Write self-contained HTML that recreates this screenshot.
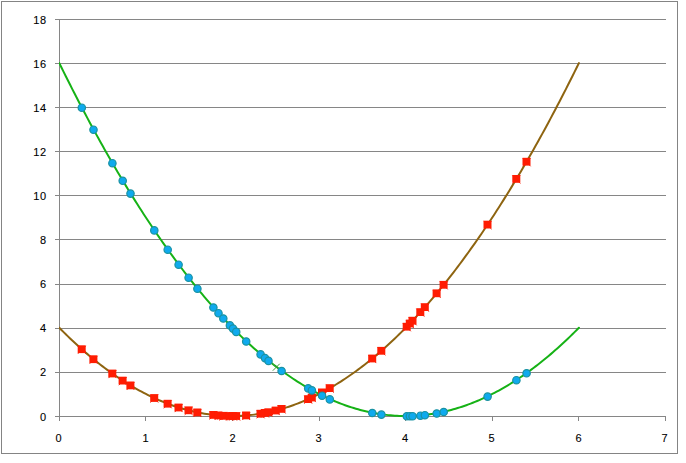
<!DOCTYPE html>
<html><head><meta charset="utf-8"><title>chart</title>
<style>
html,body{margin:0;padding:0;background:#fff;}
body{width:686px;height:463px;overflow:hidden;}
svg{display:block;}
text{font-family:"Liberation Sans",sans-serif;font-size:11px;fill:#000;stroke:#000;stroke-width:0.1px;letter-spacing:0.6px;}
</style></head><body>
<svg width="686" height="463" viewBox="0 0 686 463">
<rect x="0" y="0" width="686" height="463" fill="#fff"/>
<rect x="1.5" y="1.5" width="676" height="452" fill="#fff" stroke="#848484" stroke-width="1" shape-rendering="crispEdges"/>
<g stroke="#868686" stroke-width="1" shape-rendering="crispEdges">
<line x1="55" y1="372.5" x2="666" y2="372.5"/>
<line x1="55" y1="328.5" x2="666" y2="328.5"/>
<line x1="55" y1="284.5" x2="666" y2="284.5"/>
<line x1="55" y1="239.5" x2="666" y2="239.5"/>
<line x1="55" y1="195.5" x2="666" y2="195.5"/>
<line x1="55" y1="151.5" x2="666" y2="151.5"/>
<line x1="55" y1="107.5" x2="666" y2="107.5"/>
<line x1="55" y1="63.5" x2="666" y2="63.5"/>
<line x1="55" y1="19.5" x2="666" y2="19.5"/>
<line x1="55" y1="416.5" x2="666" y2="416.5"/>
<line x1="59.5" y1="19" x2="59.5" y2="421"/>
<line x1="145.5" y1="416" x2="145.5" y2="421"/>
<line x1="232.5" y1="416" x2="232.5" y2="421"/>
<line x1="319.5" y1="416" x2="319.5" y2="421"/>
<line x1="405.5" y1="416" x2="405.5" y2="421"/>
<line x1="492.5" y1="416" x2="492.5" y2="421"/>
<line x1="578.5" y1="416" x2="578.5" y2="421"/>
<line x1="665.5" y1="416" x2="665.5" y2="421"/>
</g>
<clipPath id="c"><rect x="59" y="0" width="600" height="463"/></clipPath><g clip-path="url(#c)">
<path d="M59.30,327.78 L61.46,329.97 L63.63,332.13 L65.80,334.27 L67.96,336.38 L70.12,338.46 L72.29,340.51 L74.45,342.54 L76.62,344.54 L78.78,346.51 L80.95,348.45 L83.11,350.37 L85.28,352.26 L87.44,354.12 L89.61,355.95 L91.77,357.76 L93.94,359.54 L96.10,361.29 L98.27,363.01 L100.44,364.71 L102.60,366.38 L104.76,368.02 L106.93,369.63 L109.09,371.21 L111.26,372.77 L113.42,374.30 L115.59,375.80 L117.75,377.28 L119.92,378.73 L122.08,380.15 L124.25,381.54 L126.41,382.90 L128.58,384.24 L130.75,385.55 L132.91,386.83 L135.07,388.09 L137.24,389.31 L139.41,390.51 L141.57,391.68 L143.73,392.83 L145.90,393.94 L148.06,395.03 L150.23,396.09 L152.39,397.13 L154.56,398.13 L156.72,399.11 L158.89,400.06 L161.06,400.99 L163.22,401.88 L165.38,402.75 L167.55,403.59 L169.71,404.41 L171.88,405.19 L174.04,405.95 L176.21,406.68 L178.38,407.38 L180.54,408.06 L182.70,408.71 L184.87,409.33 L187.03,409.92 L189.20,410.49 L191.37,411.02 L193.53,411.53 L195.69,412.02 L197.86,412.47 L200.02,412.90 L202.19,413.30 L204.36,413.67 L206.52,414.01 L208.69,414.33 L210.85,414.62 L213.01,414.88 L215.18,415.12 L217.34,415.32 L219.51,415.50 L221.68,415.66 L223.84,415.78 L226.00,415.88 L228.17,415.94 L230.33,415.99 L232.50,416.00 L234.66,415.99 L236.83,415.94 L239.00,415.88 L241.16,415.78 L243.32,415.66 L245.49,415.50 L247.65,415.32 L249.82,415.12 L251.99,414.88 L254.15,414.62 L256.31,414.33 L258.48,414.01 L260.64,413.67 L262.81,413.30 L264.97,412.90 L267.14,412.47 L269.30,412.02 L271.47,411.53 L273.63,411.02 L275.80,410.49 L277.96,409.92 L280.13,409.33 L282.30,408.71 L284.46,408.06 L286.62,407.38 L288.79,406.68 L290.95,405.95 L293.12,405.19 L295.28,404.41 L297.45,403.59 L299.61,402.75 L301.78,401.88 L303.94,400.99 L306.11,400.06 L308.27,399.11 L310.44,398.13 L312.60,397.13 L314.77,396.09 L316.94,395.03 L319.10,393.94 L321.26,392.83 L323.43,391.68 L325.60,390.51 L327.76,389.31 L329.93,388.09 L332.09,386.83 L334.25,385.55 L336.42,384.24 L338.58,382.90 L340.75,381.54 L342.91,380.15 L345.08,378.73 L347.25,377.28 L349.41,375.80 L351.57,374.30 L353.74,372.77 L355.90,371.21 L358.07,369.63 L360.24,368.02 L362.40,366.38 L364.56,364.71 L366.73,363.01 L368.89,361.29 L371.06,359.54 L373.22,357.76 L375.39,355.95 L377.55,354.12 L379.72,352.26 L381.88,350.37 L384.05,348.45 L386.21,346.51 L388.38,344.54 L390.55,342.54 L392.71,340.51 L394.88,338.46 L397.04,336.38 L399.20,334.27 L401.37,332.13 L403.53,329.97 L405.70,327.78 L407.87,325.56 L410.03,323.31 L412.19,321.04 L414.36,318.74 L416.52,316.41 L418.69,314.05 L420.85,311.66 L423.02,309.25 L425.18,306.81 L427.35,304.34 L429.52,301.85 L431.68,299.33 L433.85,296.78 L436.01,294.20 L438.18,291.59 L440.34,288.96 L442.50,286.30 L444.67,283.61 L446.83,280.90 L449.00,278.15 L451.17,275.38 L453.33,272.58 L455.50,269.76 L457.66,266.90 L459.82,264.02 L461.99,261.11 L464.15,258.18 L466.32,255.21 L468.48,252.22 L470.65,249.20 L472.81,246.16 L474.98,243.08 L477.14,239.98 L479.31,236.85 L481.47,233.70 L483.64,230.51 L485.80,227.30 L487.97,224.06 L490.13,220.79 L492.30,217.50 L494.47,214.18 L496.63,210.83 L498.80,207.45 L500.96,204.05 L503.12,200.61 L505.29,197.15 L507.45,193.67 L509.62,190.15 L511.78,186.61 L513.95,183.04 L516.12,179.44 L518.28,175.81 L520.44,172.16 L522.61,168.48 L524.77,164.77 L526.94,161.04 L529.10,157.27 L531.27,153.48 L533.43,149.67 L535.60,145.82 L537.76,141.95 L539.93,138.04 L542.09,134.12 L544.26,130.16 L546.42,126.18 L548.59,122.16 L550.75,118.13 L552.92,114.06 L555.08,109.97 L557.25,105.84 L559.41,101.69 L561.58,97.52 L563.75,93.31 L565.91,89.08 L568.07,84.82 L570.24,80.53 L572.40,76.22 L574.57,71.88 L576.73,67.51 L578.90,63.11" fill="none" stroke="#8E6410" stroke-width="2" stroke-linejoin="round" stroke-linecap="round"/>
<path d="M59.30,63.11 L61.46,67.51 L63.63,71.88 L65.80,76.22 L67.96,80.53 L70.12,84.82 L72.29,89.08 L74.45,93.31 L76.62,97.52 L78.78,101.69 L80.95,105.84 L83.11,109.97 L85.28,114.06 L87.44,118.13 L89.61,122.16 L91.77,126.18 L93.94,130.16 L96.10,134.12 L98.27,138.04 L100.44,141.95 L102.60,145.82 L104.76,149.67 L106.93,153.48 L109.09,157.27 L111.26,161.04 L113.42,164.77 L115.59,168.48 L117.75,172.16 L119.92,175.81 L122.08,179.44 L124.25,183.04 L126.41,186.61 L128.58,190.15 L130.75,193.67 L132.91,197.15 L135.07,200.61 L137.24,204.05 L139.41,207.45 L141.57,210.83 L143.73,214.18 L145.90,217.50 L148.06,220.79 L150.23,224.06 L152.39,227.30 L154.56,230.51 L156.72,233.70 L158.89,236.85 L161.06,239.98 L163.22,243.08 L165.38,246.16 L167.55,249.20 L169.71,252.22 L171.88,255.21 L174.04,258.18 L176.21,261.11 L178.38,264.02 L180.54,266.90 L182.70,269.76 L184.87,272.58 L187.03,275.38 L189.20,278.15 L191.37,280.90 L193.53,283.61 L195.69,286.30 L197.86,288.96 L200.02,291.59 L202.19,294.20 L204.36,296.78 L206.52,299.33 L208.69,301.85 L210.85,304.34 L213.01,306.81 L215.18,309.25 L217.34,311.66 L219.51,314.05 L221.68,316.41 L223.84,318.74 L226.00,321.04 L228.17,323.31 L230.33,325.56 L232.50,327.78 L234.66,329.97 L236.83,332.13 L239.00,334.27 L241.16,336.38 L243.32,338.46 L245.49,340.51 L247.65,342.54 L249.82,344.54 L251.99,346.51 L254.15,348.45 L256.31,350.37 L258.48,352.26 L260.64,354.12 L262.81,355.95 L264.97,357.76 L267.14,359.54 L269.30,361.29 L271.47,363.01 L273.63,364.71 L275.80,366.38 L277.96,368.02 L280.13,369.63 L282.30,371.21 L284.46,372.77 L286.62,374.30 L288.79,375.80 L290.95,377.28 L293.12,378.73 L295.28,380.15 L297.45,381.54 L299.61,382.90 L301.78,384.24 L303.94,385.55 L306.11,386.83 L308.27,388.09 L310.44,389.31 L312.60,390.51 L314.77,391.68 L316.94,392.83 L319.10,393.94 L321.26,395.03 L323.43,396.09 L325.60,397.13 L327.76,398.13 L329.93,399.11 L332.09,400.06 L334.25,400.99 L336.42,401.88 L338.58,402.75 L340.75,403.59 L342.91,404.41 L345.08,405.19 L347.25,405.95 L349.41,406.68 L351.57,407.38 L353.74,408.06 L355.90,408.71 L358.07,409.33 L360.24,409.92 L362.40,410.49 L364.56,411.02 L366.73,411.53 L368.89,412.02 L371.06,412.47 L373.22,412.90 L375.39,413.30 L377.55,413.67 L379.72,414.01 L381.88,414.33 L384.05,414.62 L386.21,414.88 L388.38,415.12 L390.55,415.32 L392.71,415.50 L394.88,415.66 L397.04,415.78 L399.20,415.88 L401.37,415.94 L403.53,415.99 L405.70,416.00 L407.87,415.99 L410.03,415.94 L412.19,415.88 L414.36,415.78 L416.52,415.66 L418.69,415.50 L420.85,415.32 L423.02,415.12 L425.18,414.88 L427.35,414.62 L429.52,414.33 L431.68,414.01 L433.85,413.67 L436.01,413.30 L438.18,412.90 L440.34,412.47 L442.50,412.02 L444.67,411.53 L446.83,411.02 L449.00,410.49 L451.17,409.92 L453.33,409.33 L455.50,408.71 L457.66,408.06 L459.82,407.38 L461.99,406.68 L464.15,405.95 L466.32,405.19 L468.48,404.41 L470.65,403.59 L472.81,402.75 L474.98,401.88 L477.14,400.99 L479.31,400.06 L481.47,399.11 L483.64,398.13 L485.80,397.13 L487.97,396.09 L490.13,395.03 L492.30,393.94 L494.47,392.83 L496.63,391.68 L498.80,390.51 L500.96,389.31 L503.12,388.09 L505.29,386.83 L507.45,385.55 L509.62,384.24 L511.78,382.90 L513.95,381.54 L516.12,380.15 L518.28,378.73 L520.44,377.28 L522.61,375.80 L524.77,374.30 L526.94,372.77 L529.10,371.21 L531.27,369.63 L533.43,368.02 L535.60,366.38 L537.76,364.71 L539.93,363.01 L542.09,361.29 L544.26,359.54 L546.42,357.76 L548.59,355.95 L550.75,354.12 L552.92,352.26 L555.08,350.37 L557.25,348.45 L559.41,346.51 L561.58,344.54 L563.75,342.54 L565.91,340.51 L568.07,338.46 L570.24,336.38 L572.40,334.27 L574.57,332.13 L576.73,329.97 L578.90,327.78" fill="none" stroke="#16B216" stroke-width="2" stroke-linejoin="round" stroke-linecap="round"/>
</g>
<path d="M272.8,370.7 l7,-7 M272.8,363.7 l7,7" stroke="#3C9A3C" stroke-width="1" fill="none"/>
<g fill="#FF1C02" stroke="#F01800" stroke-width="0.9">
<path d="M77.9,345.9 l7.9,7.9 M77.9,353.8 l7.9,-7.9" fill="none"/>
<rect x="77.7" y="345.3" width="8" height="7.8" stroke="none"/>
<path d="M89.6,355.9 l7.9,7.9 M89.6,363.8 l7.9,-7.9" fill="none"/>
<rect x="89.4" y="355.3" width="8" height="7.8" stroke="none"/>
<path d="M108.5,370.2 l7.9,7.9 M108.5,378.1 l7.9,-7.9" fill="none"/>
<rect x="108.3" y="369.6" width="8" height="7.8" stroke="none"/>
<path d="M118.8,377.3 l7.9,7.9 M118.8,385.2 l7.9,-7.9" fill="none"/>
<rect x="118.6" y="376.7" width="8" height="7.8" stroke="none"/>
<path d="M126.6,382.1 l7.9,7.9 M126.6,390.0 l7.9,-7.9" fill="none"/>
<rect x="126.4" y="381.5" width="8" height="7.8" stroke="none"/>
<path d="M150.4,394.7 l7.9,7.9 M150.4,402.6 l7.9,-7.9" fill="none"/>
<rect x="150.2" y="394.1" width="8" height="7.8" stroke="none"/>
<path d="M163.8,400.4 l7.9,7.9 M163.8,408.3 l7.9,-7.9" fill="none"/>
<rect x="163.6" y="399.8" width="8" height="7.8" stroke="none"/>
<path d="M174.7,404.2 l7.9,7.9 M174.7,412.1 l7.9,-7.9" fill="none"/>
<rect x="174.5" y="403.6" width="8" height="7.8" stroke="none"/>
<path d="M184.7,407.0 l7.9,7.9 M184.7,414.9 l7.9,-7.9" fill="none"/>
<rect x="184.5" y="406.4" width="8" height="7.8" stroke="none"/>
<path d="M193.5,409.1 l7.9,7.9 M193.5,417.0 l7.9,-7.9" fill="none"/>
<rect x="193.3" y="408.5" width="8" height="7.8" stroke="none"/>
<path d="M209.5,411.6 l7.9,7.9 M209.5,419.5 l7.9,-7.9" fill="none"/>
<rect x="209.3" y="411.0" width="8" height="7.8" stroke="none"/>
<path d="M214.6,412.1 l7.9,7.9 M214.6,420.0 l7.9,-7.9" fill="none"/>
<rect x="214.4" y="411.5" width="8" height="7.8" stroke="none"/>
<path d="M219.4,412.5 l7.9,7.9 M219.4,420.4 l7.9,-7.9" fill="none"/>
<rect x="219.2" y="411.9" width="8" height="7.8" stroke="none"/>
<path d="M226.0,412.7 l7.9,7.9 M226.0,420.6 l7.9,-7.9" fill="none"/>
<rect x="225.8" y="412.1" width="8" height="7.8" stroke="none"/>
<path d="M229.1,412.7 l7.9,7.9 M229.1,420.6 l7.9,-7.9" fill="none"/>
<rect x="228.9" y="412.1" width="8" height="7.8" stroke="none"/>
<path d="M232.3,412.7 l7.9,7.9 M232.3,420.6 l7.9,-7.9" fill="none"/>
<rect x="232.1" y="412.1" width="8" height="7.8" stroke="none"/>
<path d="M242.3,412.1 l7.9,7.9 M242.3,420.0 l7.9,-7.9" fill="none"/>
<rect x="242.1" y="411.5" width="8" height="7.8" stroke="none"/>
<path d="M256.7,410.4 l7.9,7.9 M256.7,418.3 l7.9,-7.9" fill="none"/>
<rect x="256.5" y="409.8" width="8" height="7.8" stroke="none"/>
<path d="M261.1,409.6 l7.9,7.9 M261.1,417.5 l7.9,-7.9" fill="none"/>
<rect x="260.9" y="409.0" width="8" height="7.8" stroke="none"/>
<path d="M264.6,408.9 l7.9,7.9 M264.6,416.8 l7.9,-7.9" fill="none"/>
<rect x="264.4" y="408.3" width="8" height="7.8" stroke="none"/>
<path d="M271.9,407.2 l7.9,7.9 M271.9,415.1 l7.9,-7.9" fill="none"/>
<rect x="271.7" y="406.6" width="8" height="7.8" stroke="none"/>
<path d="M277.7,405.6 l7.9,7.9 M277.7,413.5 l7.9,-7.9" fill="none"/>
<rect x="277.5" y="405.0" width="8" height="7.8" stroke="none"/>
<path d="M304.3,395.8 l7.9,7.9 M304.3,403.7 l7.9,-7.9" fill="none"/>
<rect x="304.1" y="395.2" width="8" height="7.8" stroke="none"/>
<path d="M308.0,394.2 l7.9,7.9 M308.0,402.1 l7.9,-7.9" fill="none"/>
<rect x="307.8" y="393.6" width="8" height="7.8" stroke="none"/>
<path d="M318.2,389.1 l7.9,7.9 M318.2,397.0 l7.9,-7.9" fill="none"/>
<rect x="318.0" y="388.5" width="8" height="7.8" stroke="none"/>
<path d="M325.9,384.8 l7.9,7.9 M325.9,392.7 l7.9,-7.9" fill="none"/>
<rect x="325.7" y="384.2" width="8" height="7.8" stroke="none"/>
<path d="M368.4,355.2 l7.9,7.9 M368.4,363.1 l7.9,-7.9" fill="none"/>
<rect x="368.2" y="354.6" width="8" height="7.8" stroke="none"/>
<path d="M377.5,347.5 l7.9,7.9 M377.5,355.4 l7.9,-7.9" fill="none"/>
<rect x="377.3" y="346.9" width="8" height="7.8" stroke="none"/>
<path d="M402.9,323.4 l7.9,7.9 M402.9,331.3 l7.9,-7.9" fill="none"/>
<rect x="402.7" y="322.8" width="8" height="7.8" stroke="none"/>
<path d="M406.0,320.2 l7.9,7.9 M406.0,328.1 l7.9,-7.9" fill="none"/>
<rect x="405.8" y="319.6" width="8" height="7.8" stroke="none"/>
<path d="M408.7,317.4 l7.9,7.9 M408.7,325.3 l7.9,-7.9" fill="none"/>
<rect x="408.5" y="316.8" width="8" height="7.8" stroke="none"/>
<path d="M416.5,308.8 l7.9,7.9 M416.5,316.7 l7.9,-7.9" fill="none"/>
<rect x="416.3" y="308.2" width="8" height="7.8" stroke="none"/>
<path d="M421.0,303.8 l7.9,7.9 M421.0,311.7 l7.9,-7.9" fill="none"/>
<rect x="420.8" y="303.2" width="8" height="7.8" stroke="none"/>
<path d="M432.8,290.0 l7.9,7.9 M432.8,297.9 l7.9,-7.9" fill="none"/>
<rect x="432.6" y="289.4" width="8" height="7.8" stroke="none"/>
<path d="M439.8,281.5 l7.9,7.9 M439.8,289.4 l7.9,-7.9" fill="none"/>
<rect x="439.6" y="280.9" width="8" height="7.8" stroke="none"/>
<path d="M483.7,221.3 l7.9,7.9 M483.7,229.2 l7.9,-7.9" fill="none"/>
<rect x="483.5" y="220.7" width="8" height="7.8" stroke="none"/>
<path d="M512.5,175.6 l7.9,7.9 M512.5,183.5 l7.9,-7.9" fill="none"/>
<rect x="512.3" y="175.0" width="8" height="7.8" stroke="none"/>
<path d="M522.7,158.4 l7.9,7.9 M522.7,166.3 l7.9,-7.9" fill="none"/>
<rect x="522.5" y="157.8" width="8" height="7.8" stroke="none"/>
</g>
<g fill="#0FAAEE" stroke="#1A92A2" stroke-width="1.2">
<circle cx="81.8" cy="107.7" r="3.7"/>
<circle cx="93.5" cy="129.7" r="3.7"/>
<circle cx="112.4" cy="163.2" r="3.7"/>
<circle cx="122.7" cy="180.8" r="3.7"/>
<circle cx="130.5" cy="193.6" r="3.7"/>
<circle cx="154.3" cy="230.4" r="3.7"/>
<circle cx="167.7" cy="249.7" r="3.7"/>
<circle cx="178.6" cy="264.7" r="3.7"/>
<circle cx="188.6" cy="277.7" r="3.7"/>
<circle cx="197.4" cy="288.7" r="3.7"/>
<circle cx="213.4" cy="307.5" r="3.7"/>
<circle cx="218.5" cy="313.2" r="3.7"/>
<circle cx="223.3" cy="318.5" r="3.7"/>
<circle cx="229.9" cy="325.4" r="3.7"/>
<circle cx="233.0" cy="328.6" r="3.7"/>
<circle cx="236.2" cy="331.9" r="3.7"/>
<circle cx="246.2" cy="341.5" r="3.7"/>
<circle cx="260.6" cy="354.4" r="3.7"/>
<circle cx="265.0" cy="358.1" r="3.7"/>
<circle cx="268.5" cy="360.9" r="3.7"/>
<circle cx="281.6" cy="371.0" r="3.7"/>
<circle cx="308.2" cy="388.4" r="3.7"/>
<circle cx="311.9" cy="390.4" r="3.7"/>
<circle cx="322.1" cy="395.7" r="3.7"/>
<circle cx="329.8" cy="399.4" r="3.7"/>
<circle cx="372.3" cy="413.0" r="3.7"/>
<circle cx="381.4" cy="414.6" r="3.7"/>
<circle cx="406.8" cy="416.3" r="3.7"/>
<circle cx="409.9" cy="416.2" r="3.7"/>
<circle cx="412.6" cy="416.2" r="3.7"/>
<circle cx="420.4" cy="415.7" r="3.7"/>
<circle cx="424.9" cy="415.2" r="3.7"/>
<circle cx="436.7" cy="413.5" r="3.7"/>
<circle cx="443.7" cy="412.0" r="3.7"/>
<circle cx="487.6" cy="396.6" r="3.7"/>
<circle cx="516.4" cy="380.2" r="3.7"/>
<circle cx="526.6" cy="373.3" r="3.7"/>
</g>
<g text-anchor="end">
<text x="46.8" y="421">0</text>
<text x="46.8" y="376">2</text>
<text x="46.8" y="332">4</text>
<text x="46.8" y="288">6</text>
<text x="46.8" y="244">8</text>
<text x="46.8" y="200">10</text>
<text x="46.8" y="156">12</text>
<text x="46.8" y="112">14</text>
<text x="46.8" y="68">16</text>
<text x="46.8" y="24">18</text>
</g><g text-anchor="middle">
<text x="58.8" y="442">0</text>
<text x="145.8" y="442">1</text>
<text x="232.8" y="442">2</text>
<text x="318.8" y="442">3</text>
<text x="405.3" y="442">4</text>
<text x="491.8" y="442">5</text>
<text x="578.8" y="442">6</text>
<text x="664.8" y="442">7</text>
</g>
</svg></body></html>
